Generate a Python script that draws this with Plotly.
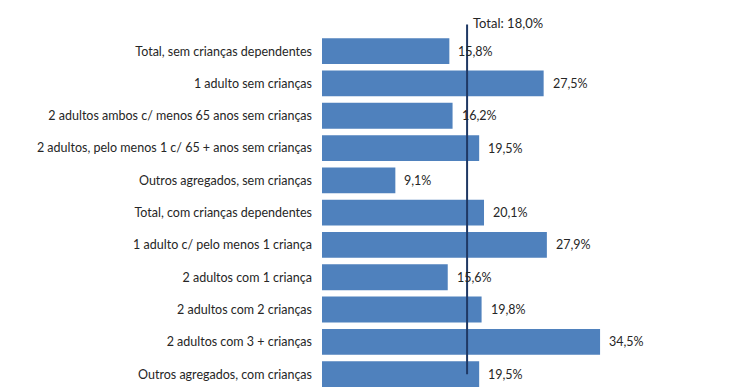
import plotly.graph_objects as go

categories = [
    "Total, sem crianças dependentes",
    "1 adulto sem crianças",
    "2 adultos ambos c/ menos 65 anos sem crianças",
    "2 adultos, pelo menos 1 c/ 65 + anos sem crianças",
    "Outros agregados, sem crianças",
    "Total, com crianças dependentes",
    "1 adulto c/ pelo menos 1 criança",
    "2 adultos com 1 criança",
    "2 adultos com 2 crianças",
    "2 adultos com 3 + crianças",
    "Outros agregados, com crianças",
]
values = [15.8, 27.5, 16.2, 19.5, 9.1, 20.1, 27.9, 15.6, 19.8, 34.5, 19.5]
total_value = 18.0

def fmt(v):
    return f"{v:.1f}".replace(".", ",") + "%"

font_family = "Lato, 'Open Sans', sans-serif"

fig = go.Figure()
fig.add_trace(go.Bar(
    x=values, y=categories, orientation="h",
    marker=dict(color="#4F81BD", line=dict(width=0)),
    hoverinfo="skip",
))

for c, v in zip(categories, values):
    fig.add_annotation(x=v, y=c, text=fmt(v), showarrow=False,
                       xanchor="left", xshift=7,
                       font=dict(size=12.5, color="#262626", family=font_family))

fig.add_shape(type="line", xref="x", yref="paper",
              x0=total_value, x1=total_value, y0=0.042, y1=1.03,
              line=dict(color="#1F3864", width=2))
fig.add_annotation(x=total_value, xref="x", yref="paper", y=1.035,
                   text="Total: " + fmt(total_value), showarrow=False,
                   xanchor="left", yanchor="middle", xshift=4,
                   font=dict(size=13, color="#262626", family=font_family))

fig.update_layout(
    width=732, height=381,
    margin=dict(l=314, r=15, t=27, b=0),
    paper_bgcolor="white", plot_bgcolor="white",
    bargap=0.2,
    showlegend=False,
    font=dict(family=font_family, size=12.5, color="#262626"),
)
fig.update_xaxes(range=[0, 50], visible=False, showgrid=False, zeroline=False)
fig.update_yaxes(range=[10.46, -0.5], showgrid=False, zeroline=False, showline=False,
                 ticks="", ticklabelstandoff=9,
                 tickfont=dict(size=12.5, color="#262626", family=font_family))

fig.write_html("out.html")
